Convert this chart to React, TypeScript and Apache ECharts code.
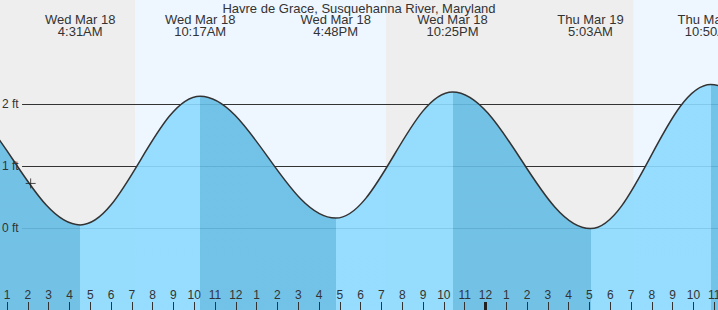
import React, { useEffect, useRef } from "react";
import * as echarts from "echarts";

// ---- data (hours measured from Wed Mar 18, 00:00 local time) ----
const TITLE = "Havre de Grace, Susquehanna River, Maryland";

// tide extremes (the first two and last two lie outside the visible window)
const TIDE_HOURS = [-8.0, -1.83, 4 + 31 / 60, 10 + 17 / 60, 16 + 48 / 60, 22 + 25 / 60, 24 + 5 + 3 / 60, 24 + 10 + 50 / 60, 41.25, 47.4];
const TIDE_FT = [0.1, 2.1, 0.05, 2.13, 0.16, 2.2, -0.01, 2.32, 0.1, 2.2];
const TIDE_DAY_LABELS = ["", "", "Wed Mar 18", "Wed Mar 18", "Wed Mar 18", "Wed Mar 18", "Thu Mar 19", "Thu Mar 19", "", ""];
const TIDE_TIME_LABELS = ["", "", "4:31AM", "10:17AM", "4:48PM", "10:25PM", "5:03AM", "10:50AM", "", ""];

// sunrise / sunset boundaries inside the window
const SUN_HOURS = [7 + 9 / 60, 19 + 13 / 60, 24 + 7 + 8 / 60];

// current time marker
const NOW_HOUR = 2 + 8 / 60;
const NOW_FT = 0.72;

// axis ticks
const HOUR_TICKS = Array.from({ length: 35 }, (_, i) => i + 1);
const MIDNIGHT_TICKS = [24];
const FT_LEVELS = [0, 1, 2];

// ---- layout / style ----
const X_MIN = 0.66;
const X_MAX = 35.18;
const Y_MIN = -1.326;
const Y_MAX = 3.686;
const GRID_LINE_START = 1.72;
const FONT = "'Liberation Sans', Arial, Helvetica, sans-serif";
const NIGHT = "#EEEEEE";
const DAY = "#EEF6FF";
const LIGHT = "#8CDAFF";
const DARK = "#65BDE5";
const TEXT = "#333333";

export default function App() {
  const ref = useRef<HTMLDivElement>(null);

  useEffect(() => {
    if (!ref.current) return;
    const chart = echarts.init(ref.current, undefined, { renderer: "svg" });

    const bounds = [X_MIN, ...SUN_HOURS, X_MAX];
    const bands = [];
    for (let i = 0; i < bounds.length - 1; i++) {
      bands.push([
        { xAxis: bounds[i], itemStyle: { color: i % 2 === 0 ? NIGHT : DAY } },
        { xAxis: bounds[i + 1] },
      ]);
    }

    const pieces: any[] = [];
    for (let i = 0; i < TIDE_HOURS.length - 1; i++) {
      const falling = TIDE_FT[i + 1] < TIDE_FT[i];
      const p: any = { color: falling ? DARK : LIGHT };
      if (i > 0) p.gte = TIDE_HOURS[i];
      if (i < TIDE_HOURS.length - 2) p.lt = TIDE_HOURS[i + 1];
      pieces.push(p);
    }

    const labelled = TIDE_HOURS.filter((_, i) => TIDE_TIME_LABELS[i] !== "");

    const hiddenLine = { show: false, onZero: false };

    const option: any = {
      animation: false,
      title: {
        text: TITLE,
        left: "center",
        top: 1,
        padding: 0,
        textStyle: { fontFamily: FONT, fontSize: 13, fontWeight: "normal", color: TEXT, lineHeight: 14 },
      },
      grid: { left: 0, right: 0, top: 0, bottom: 0, containLabel: false, outerBoundsMode: "none" },
      xAxis: [
        {
          type: "value",
          min: X_MIN,
          max: X_MAX,
          position: "bottom",
          z: 10,
          axisLine: hiddenLine,
          splitLine: { show: false },
          axisTick: {
            show: true,
            inside: true,
            length: 8,
            customValues: HOUR_TICKS,
            lineStyle: { color: TEXT, width: 1 },
          },
          axisLabel: {
            inside: true,
            margin: 9,
            customValues: HOUR_TICKS,
            formatter: (v: number) => String(v % 12 || 12),
            color: TEXT,
            fontSize: 12,
            lineHeight: 12,
            fontFamily: FONT,
          },
        },
        {
          type: "value",
          min: X_MIN,
          max: X_MAX,
          position: "top",
          z: 10,
          axisLine: hiddenLine,
          splitLine: { show: false },
          axisTick: { show: false },
          axisLabel: {
            inside: true,
            margin: 13,
            customValues: labelled,
            formatter: (v: number) => {
              const i = TIDE_HOURS.findIndex((h) => Math.abs(h - v) < 1e-6);
              return i < 0 ? "" : TIDE_DAY_LABELS[i] + "\n" + TIDE_TIME_LABELS[i];
            },
            color: TEXT,
            fontSize: 13,
            lineHeight: 12,
            fontFamily: FONT,
          },
        },
        {
          type: "value",
          min: X_MIN,
          max: X_MAX,
          position: "bottom",
          z: 11,
          axisLine: hiddenLine,
          splitLine: { show: false },
          axisLabel: { show: false },
          axisTick: {
            show: true,
            inside: true,
            length: 8,
            customValues: MIDNIGHT_TICKS,
            lineStyle: { color: "#222", width: 3 },
          },
        },
      ],
      yAxis: {
        type: "value",
        min: Y_MIN,
        max: Y_MAX,
        z: 10,
        axisLine: hiddenLine,
        axisTick: { show: false },
        splitLine: { show: false },
        axisLabel: {
          inside: true,
          margin: 2,
          customValues: FT_LEVELS,
          formatter: (v: number) => `${v} ft`,
          color: TEXT,
          fontSize: 12,
          fontFamily: FONT,
        },
      },
      visualMap: {
        show: false,
        type: "piecewise",
        dimension: 0,
        seriesIndex: 1,
        pieces,
      },
      series: [
        {
          type: "line",
          data: [],
          z: 0,
          silent: true,
          markArea: { silent: true, z: 0, data: bands },
          markLine: {
            silent: true,
            z: 1,
            symbol: ["none", "none"],
            label: { show: false },
            lineStyle: { color: TEXT, width: 1, type: "solid" },
            data: FT_LEVELS.map((v) => [
              { coord: [GRID_LINE_START, v] },
              { coord: [X_MAX, v] },
            ]),
          },
        },
        {
          type: "line",
          z: 3,
          data: TIDE_HOURS.map((h, i) => [h, TIDE_FT[i]]),
          smooth: 0.36,
          smoothMonotone: "x",
          showSymbol: false,
          clip: true,
          silent: true,
          lineStyle: { color: TEXT, width: 1.5 },
          areaStyle: { origin: "start", opacity: 0.9 },
        },
        {
          type: "scatter",
          z: 4,
          silent: true,
          data: [[NOW_HOUR, NOW_FT]],
          symbol: "path://M0,5L10,5M5,0L5,10",
          symbolSize: 10,
          itemStyle: { color: "none", borderColor: "#222", borderWidth: 1 },
        },
      ],
    };

    chart.setOption(option);
    return () => chart.dispose();
  }, []);

  return (
    <div
      ref={ref}
      style={{ position: "absolute", left: 0, top: 0, width: 718, height: 310 }}
    />
  );
}
